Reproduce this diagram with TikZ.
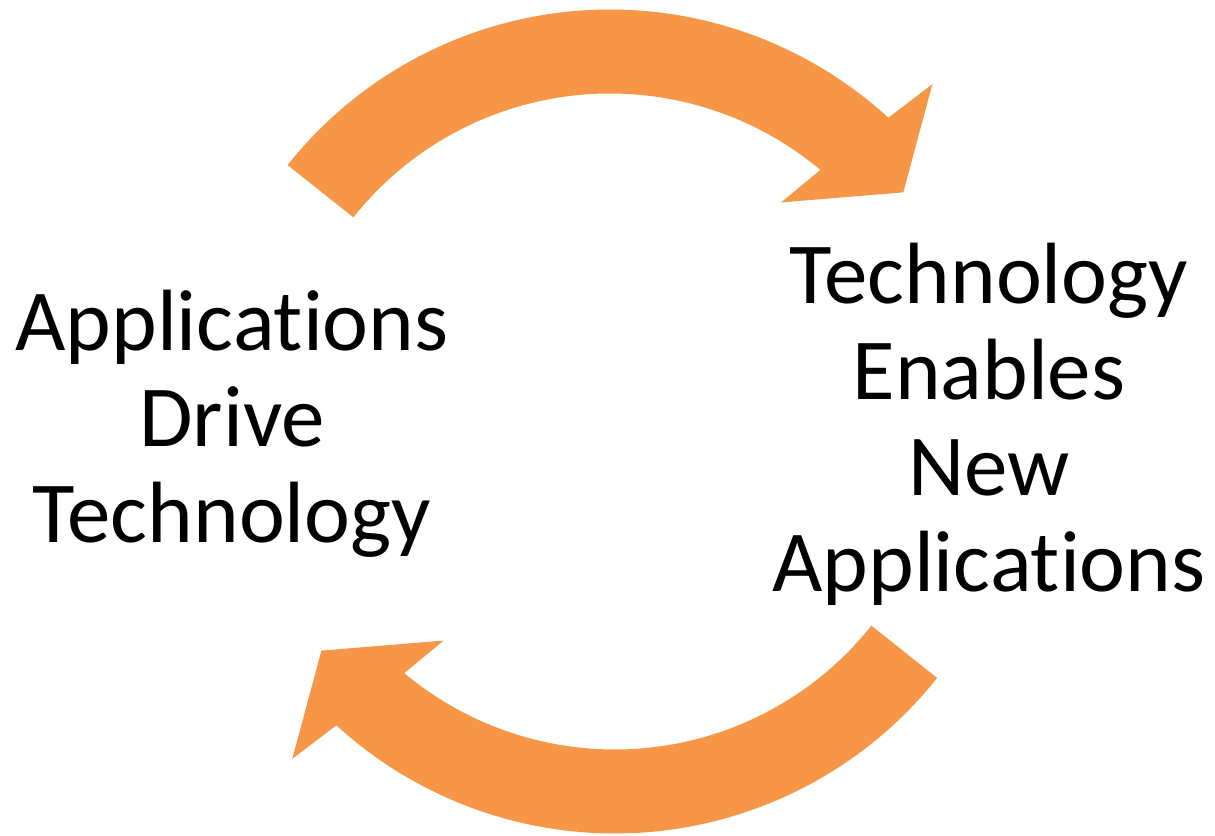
\documentclass[tikz,border=0pt]{standalone}
\usepackage{fontspec}
\setmainfont{Carlito}[Ligatures=NoCommon]
\definecolor{cycleorange}{HTML}{F79646}
\begin{document}
\begin{tikzpicture}[x=0.5pt,y=0.5pt,
  cyclearrow/.style={fill=cycleorange},
  cyclelabel/.style={align=center,inner sep=0pt,font=\fontsize{43.5}{48}\selectfont}]
  \useasboundingbox (0,0) rectangle (1215,835);
  \foreach \ang/\cx in {0/610,180/614.7}
    \fill[cyclearrow,shift={(\cx,413.5)},rotate=\ang] (141.5:412) arc[start angle=141.5,end angle=47.5,radius=412] -- (46.3:466.7) -- (38:372.2) -- (52:278) -- (50.1:328) arc[start angle=50.1,end angle=141.5,radius=328] -- cycle;
  \node[cyclelabel] (drive) at (232,411) {Applications\\Drive\\Technology};
  \node[cyclelabel] (enable) at (989,411) {Technology\\Enables\\New\\Applications};
\end{tikzpicture}
\end{document}
